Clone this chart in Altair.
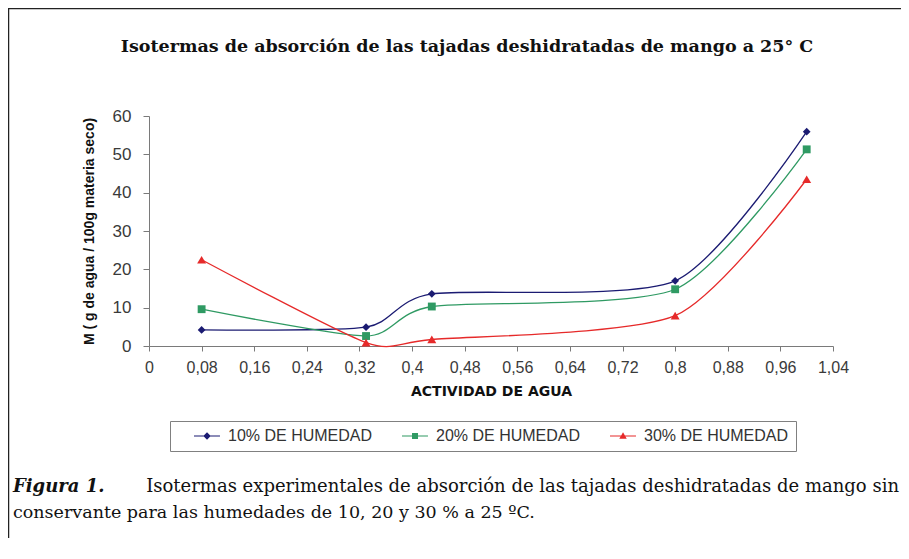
import altair as alt
import pandas as pd

# ---- data ----
aw = [0.08, 0.33, 0.43, 0.80, 1.00]
h10 = [4.2, 4.9, 13.6, 17.0, 55.9]
h20 = [9.6, 2.6, 10.3, 14.8, 51.3]
h30 = [22.5, 0.9, 1.7, 7.9, 43.5]

series_names = ["10% DE HUMEDAD", "20% DE HUMEDAD", "30% DE HUMEDAD"]
series_values = [h10, h20, h30]
colors = ["#1b1b72", "#2f9a63", "#e62a2a"]
marker_shapes = ["diamond", "square", "triangle-up"]
marker_sizes = [60, 62, 80]

x_ticks = [0, 0.08, 0.16, 0.24, 0.32, 0.40, 0.48, 0.56, 0.64, 0.72, 0.80, 0.88, 0.96, 1.04]
y_ticks = [0, 10, 20, 30, 40, 50, 60]

TITLE = "Isotermas de absorción de las tajadas deshidratadas de mango a 25° C"
CAP_BOLD = "Figura 1."
CAP_L1 = "Isotermas experimentales de absorción de las tajadas deshidratadas de mango sin"
CAP_L2 = "conservante para las humedades de 10, 20 y 30 % a 25 ºC."

rows = []
for name, vals in zip(series_names, series_values):
    for a, v in zip(aw, vals):
        rows.append({"aw": a, "M": v, "serie": name})
df = pd.DataFrame(rows)

# legend symbols: line segment + marker (custom paths)
seg = "M1.5,-0.1H5.83V0.1H1.5Z"
legend_paths = [
    seg + " M3.67,-0.62L4.29,0L3.67,0.62L3.05,0Z",
    seg + " M3.17,-0.5H4.17V0.5H3.17Z",
    seg + " M3.67,-0.62L4.29,0.45L3.05,0.45Z",
]

W, H = 684, 230

x_enc = alt.X(
    "aw:Q",
    scale=alt.Scale(domain=[0, 1.04], nice=False, zero=False),
    axis=alt.Axis(
        values=x_ticks,
        labelExpr="replace(format(datum.value, '.2~f'), '.', ',')",
        title="ACTIVIDAD DE AGUA",
        grid=False,
        domainColor="#7a7a7a",
        tickColor="#7a7a7a",
        tickSize=5,
        labelFont="Liberation Sans",
        labelFontSize=16,
        labelColor="#3a3a3a",
        labelPadding=8,
        labelFlush=False,
        labelOverlap=False,
        titleFont="DejaVu Sans",
        titleFontSize=14,
        titleFontWeight="bold",
        titleColor="#111111",
        titlePadding=9,
    ),
)
y_enc = alt.Y(
    "M:Q",
    scale=alt.Scale(domain=[0, 60], nice=False),
    axis=alt.Axis(
        values=y_ticks,
        title="M ( g de agua / 100g materia seco)",
        grid=False,
        domainColor="#7a7a7a",
        tickColor="#7a7a7a",
        tickSize=6,
        labelFont="Liberation Sans",
        labelFontSize=17,
        labelColor="#3a3a3a",
        labelPadding=12,
        labelOverlap=False,
        labelFlush=False,
        titleFont="Liberation Sans",
        titleFontSize=14,
        titleFontWeight="bold",
        titleColor="#111111",
        titlePadding=16,
    ),
)
color_enc = alt.Color("serie:N", scale=alt.Scale(domain=series_names, range=colors),
                      legend=alt.Legend(title=None))

base = alt.Chart(df)

lines = base.mark_line(interpolate="cardinal", tension=0.3, strokeWidth=1.3).encode(
    x=x_enc, y=y_enc, color=color_enc,
)

marker_layers = []
for name, shp, sz in zip(series_names, marker_shapes, marker_sizes):
    marker_layers.append(
        base.transform_filter(alt.datum.serie == name)
        .mark_point(filled=True, shape=shp, size=sz, opacity=1)
        .encode(x=x_enc, y=y_enc, color=color_enc)
    )

legend_layer = base.transform_filter("false").mark_point(filled=True, opacity=1).encode(
    x=x_enc, y=y_enc, color=color_enc,
    shape=alt.Shape("serie:N", scale=alt.Scale(domain=series_names, range=legend_paths),
                    legend=alt.Legend(title=None)),
)

one = alt.Data(values=[{}])
title_txt = alt.Chart(one).mark_text(
    text=TITLE, font="DejaVu Serif", fontWeight="bold", fontSize=17.5,
    align="center", baseline="middle", color="#111111",
).encode(x=alt.value(318), y=alt.value(-69))

cap_bold = alt.Chart(one).mark_text(
    text=CAP_BOLD, font="DejaVu Serif", fontWeight="bold", fontStyle="italic", fontSize=18,
    align="left", baseline="middle", color="#111111",
).encode(x=alt.value(-136), y=alt.value(371))
cap_l1 = alt.Chart(one).mark_text(
    text=CAP_L1, font="DejaVu Serif", fontSize=18,
    align="right", baseline="middle", color="#111111",
).encode(x=alt.value(750), y=alt.value(371))
cap_l2 = alt.Chart(one).mark_text(
    text=CAP_L2, font="DejaVu Serif", fontSize=17.5,
    align="left", baseline="middle", color="#111111",
).encode(x=alt.value(-136), y=alt.value(397))

frame_top = alt.Chart(one).mark_rule(color="#222222", strokeWidth=1.5).encode(
    x=alt.value(-141), x2=alt.value(760), y=alt.value(-107.5))
frame_left = alt.Chart(one).mark_rule(color="#222222", strokeWidth=1.5).encode(
    x=alt.value(-140.5), y=alt.value(-108), y2=alt.value(440))

chart = alt.layer(
    frame_top, frame_left, title_txt, lines, *marker_layers, legend_layer,
    cap_bold, cap_l1, cap_l2,
).properties(
    width=W, height=H,
    autosize=alt.AutoSizeParams(type="none"),
    padding={"left": 141, "top": 108, "right": 68, "bottom": 192},
).configure_view(stroke=None).configure_legend(
    orient="none",
    legendX=21,
    legendY=305,
    direction="horizontal",
    symbolSize=144,
    symbolStrokeWidth=0,
    labelFont="Liberation Sans",
    labelFontSize=16,
    labelColor="#333333",
    labelOffset=35,
    columnPadding=12,
    padding=7,
    strokeColor="#808080",
)

chart.save("out.html", embed_options={"renderer": "svg", "actions": False})
